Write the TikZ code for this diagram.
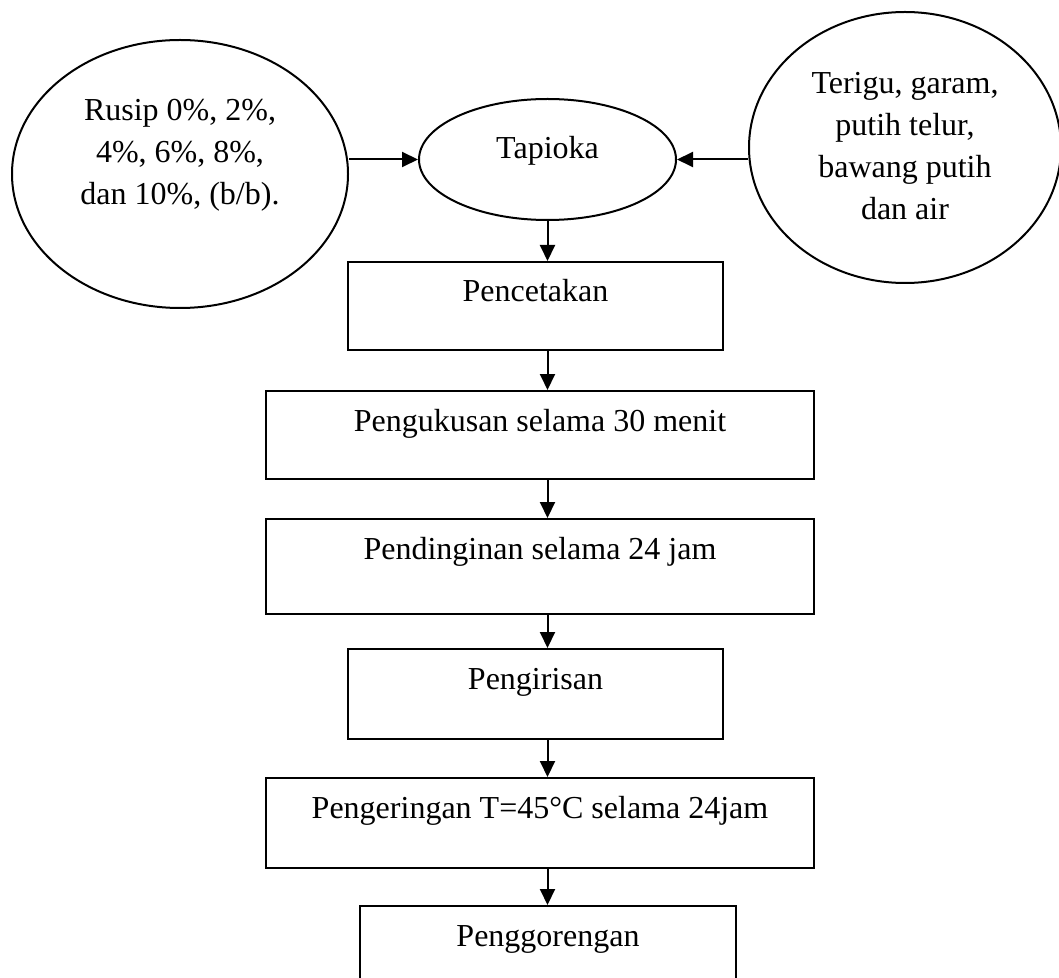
\documentclass[tikz,border=0pt]{standalone}
\usepackage{fontspec}
\setmainfont{Liberation Serif}
\usetikzlibrary{shapes.geometric,arrows.meta}
\tikzset{procbox/.style={draw,line width=1pt,inner xsep=0pt,inner ysep=0pt,text height=20pt,anchor=north},
srcellipse/.style={draw,ellipse,line width=1pt,inner sep=0pt},
flow/.style={line width=1pt,-{Triangle[length=8pt,width=7.5pt]}}}

\begin{document}
\begin{tikzpicture}[x=0.5pt,y=-0.5pt,font=\fontsize{16}{21}\selectfont]
\useasboundingbox (0,0) rectangle (1059,978);
\node[srcellipse,minimum width=168pt,minimum height=134pt](rusip)at(180,174){\raisebox{5.7pt}[0pt][0pt]{\begin{tabular}{@{}c@{}}Rusip 0\%, 2\%,\\4\%, 6\%, 8\%,\\dan 10\%, (b/b).\end{tabular}}};
\node[srcellipse,minimum width=156pt,minimum height=135.5pt](terigu)at(905,147.5){\raisebox{-4.7pt}[0pt][0pt]{\begin{tabular}{@{}c@{}}Terigu, garam,\\putih telur,\\bawang putih\\dan air\end{tabular}}};
\node[srcellipse,minimum width=128.5pt,minimum height=60.5pt](tap)at(547.5,159.5){\raisebox{0.5pt}[0pt][0pt]{Tapioka}};
\node[procbox,minimum width=187.5pt,text depth=24pt](cetak)at(535.5,261){Pencetakan};
\node[procbox,minimum width=274pt,text depth=24pt](kukus)at(540,390){Pengukusan selama 30 menit};
\node[procbox,minimum width=274pt,text depth=27.5pt](dingin)at(540,518){Pendinginan selama 24 jam};
\node[procbox,minimum width=187.5pt,text depth=25pt](iris)at(535.5,648){Pengirisan};
\node[procbox,minimum width=274pt,text depth=25pt](kering)at(540,777){Pengeringan T=45°C selama 24jam};
\node[procbox,minimum width=188pt,text depth=24pt](goreng)at(548,905){Penggorengan};
\draw[flow](tap.west -| rusip.east)--(tap.west);\draw[flow](tap.east -| terigu.west)--(tap.east);
\draw[flow](tap.south)--(tap.south |- cetak.north);
\foreach \a/\b in {cetak/kukus,kukus/dingin,dingin/iris,iris/kering,kering/goreng}\draw[flow](\a.south -| tap)--(\b.north -| tap);
\end{tikzpicture}
\end{document}
